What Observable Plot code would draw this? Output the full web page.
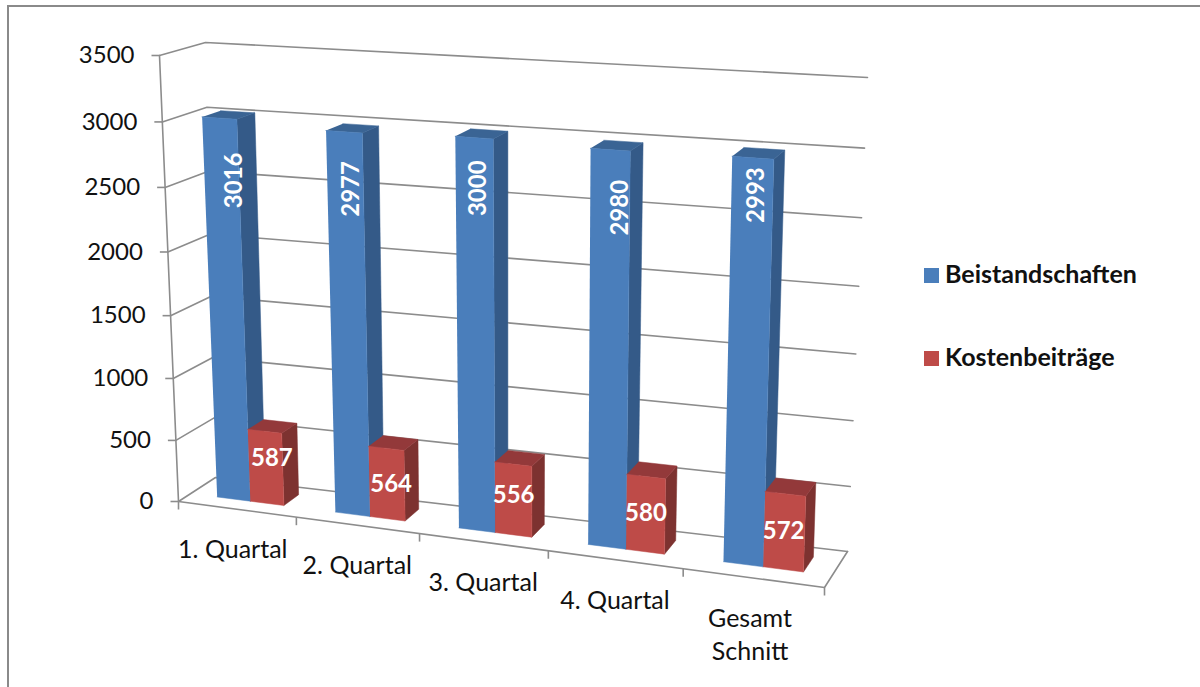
<!DOCTYPE html>
<html><head><meta charset="utf-8">
<script src="https://cdn.jsdelivr.net/npm/d3@7"></script>
<script src="https://cdn.jsdelivr.net/npm/@observablehq/plot@0.6"></script>
<style>
html,body{margin:0;padding:0;background:#fff;overflow:hidden}
#wrap{position:relative;width:1200px;height:687px;overflow:hidden;font-family:Lato,sans-serif}
#frame{position:absolute;left:7px;top:5px;width:1300px;height:800px;border-top:2px solid #8a8a8a;border-left:2px solid #8a8a8a;box-sizing:border-box}
.lg{position:absolute;left:924px;font-weight:700;font-size:25px;color:#111;line-height:30px;white-space:nowrap}
.lg i{display:inline-block;width:15px;height:15px;margin-right:6px;vertical-align:0px}
svg{position:absolute;left:0;top:0}
</style></head><body>
<div id="wrap"><div id="frame"></div><div id="chart"></div>
<div class="lg" id="l0" style="top:258px"></div><div class="lg" id="l1" style="top:341px"></div></div>
<script>
const categories = ["1. Quartal","2. Quartal","3. Quartal","4. Quartal","Gesamt\nSchnitt"];
const beistandschaften = [3016,2977,3000,2980,2993];
const kostenbeitraege = [587,564,556,580,572];
const seriesNames = ["Beistandschaften","Kostenbeiträge"];
const yTicks = [0,500,1000,1500,2000,2500,3000,3500];
const yMax = 3500;

// Perspective box: pixel corners of the chart's 3D box [u across, w depth, v height]
const C = {
  f0:[178,501], f1:[824,587], b0:[215,477], b1:[847,551],
  F0:[159,55],  F1:[843,97], B0:[205,42],  B1:[867,77]
};
const warpU = u => u/(1+0.12*(1-u));
const warpV = v => v/(1+0.05*(1-v));
const mix=(a,b,t)=>[a[0]+(b[0]-a[0])*t,a[1]+(b[1]-a[1])*t];
function P(u,w,value){
  const U=warpU(u),V=warpV(value/yMax);
  const low=mix(mix(C.f0,C.f1,U),mix(C.b0,C.b1,U),w);
  const high=mix(mix(C.F0,C.F1,U),mix(C.B0,C.B1,U),w);
  return mix(low,high,V);
}
const barLean=3; // bars lean slightly more than the walls, px at the axis top
const Pbar=(u,w,value)=>{const p=P(u,w,value);return [p[0]-barLean*value/yMax,p[1]];};
const px=d=>d.p[0], py=d=>d.p[1];
const n=categories.length;
const W0=0.33,W1=0.75, barW=0.057, inset=0.046;

// hand-placed label layout of the original chart: height on the bar, sideways nudge, in px
const blueLabelLevel=[2540,2548,2627,2560,2728], blueLabelDx=[10,4,2,8,2];
const redLabelLevel=[370,278,310,300,288], redLabelDx=[6,4,0,0,-1];
const catLabelDx=[-4,0,0,0,-3];

function faces(values,slot){
  const side=[],top=[],front=[];
  values.forEach((val,i)=>{
    const a=i/n+inset+slot*barW, b=a+barW;
    const add=(arr,pts)=>pts.forEach(p=>arr.push({id:i,p}));
    add(front,[Pbar(a,W0,0),Pbar(b,W0,0),Pbar(b,W0,val),Pbar(a,W0,val)]);
    add(side,[Pbar(b,W0,0),Pbar(b,W1,0),Pbar(b,W1,val),Pbar(b,W0,val)]);
    add(top,[Pbar(a,W0,val),Pbar(b,W0,val),Pbar(b,W1,val),Pbar(a,W1,val)]);
  });
  return {side,top,front};
}
const blue=faces(beistandschaften,0), red=faces(kostenbeitraege,1);
const poly=(data,fill)=>Plot.line(data,{x:px,y:py,z:"id",fill,stroke:fill,strokeWidth:0.5});

const grid=yTicks.flatMap(v=>[P(0,0,v),P(0,1,v),P(1,1,v)].map(p=>({id:v,p})));
const floor=[P(0,0,0),P(1,0,0),P(1,1,0)].map(p=>({id:"floor",p}));
const axisY=yTicks.map(v=>({id:"axis",p:P(0,0,v)}));
const ticksY=yTicks.map(v=>({v,p:P(0,0,v)}));
const ticksX=d3.range(n+1).map(i=>({p:P(i/n,0,0)}));
const catLabels=categories.map((c,i)=>({c,dx:catLabelDx[i],p:P((i+0.5)/n,0,0)}));
const labelAt=(level,slot,i)=>P(i/n+inset+(slot+0.5)*barW,W0,level);
const blueLabels=beistandschaften.map((v,i)=>({v,dx:blueLabelDx[i],p:labelAt(blueLabelLevel[i],0,i)}));
const redLabels=kostenbeitraege.map((v,i)=>({v,dx:redLabelDx[i],p:labelAt(redLabelLevel[i],1,i)}));
const gridStyle={stroke:"#8c8c8c",strokeWidth:1.6};

const chart=Plot.plot({
  width:1200,height:687,margin:0,
  x:{domain:[0,1200],range:[0,1200],axis:null},
  y:{domain:[0,687],range:[0,687],axis:null},
  style:{background:"transparent",fontFamily:"Lato,sans-serif"},
  marks:[
    Plot.line(grid,{x:px,y:py,z:"id",...gridStyle}),
    Plot.line(floor,{x:px,y:py,z:"id",...gridStyle}),
    Plot.line(axisY,{x:px,y:py,z:"id",...gridStyle}),
    Plot.link(ticksY,{x1:d=>d.p[0]-8,x2:px,y1:py,y2:py,...gridStyle}),
    Plot.link(ticksX,{x1:px,x2:px,y1:py,y2:d=>d.p[1]+8,...gridStyle}),
    poly(blue.side,"#345a88"),poly(blue.top,"#3a6494"),poly(blue.front,"#4a7ebb"),
    poly(red.side,"#7d3230"),poly(red.top,"#93393a"),poly(red.front,"#be4b48"),
    Plot.text(ticksY,{x:d=>d.p[0]-25,y:py,text:d=>String(d.v),textAnchor:"end",fontSize:24,fill:"#111"}),
    Plot.text(catLabels,{x:d=>d.p[0]+d.dx,y:py,text:"c",textAnchor:"middle",lineAnchor:"top",dy:26,fontSize:25,lineHeight:1.3,fill:"#111"}),
    Plot.text(blueLabels,{x:d=>d.p[0]+d.dx,y:py,text:d=>String(d.v),rotate:-90,fontSize:24,fontWeight:700,fill:"#fff"}),
    Plot.text(redLabels,{x:d=>d.p[0]+d.dx,y:py,text:d=>String(d.v),fontSize:24,fontWeight:700,fill:"#fff"})
  ]
});
document.getElementById("chart").append(chart);
const cols=["#4a7ebb","#be4b48"];
seriesNames.forEach((s,i)=>{const e=document.getElementById("l"+i);
  e.innerHTML=`<i style="background:${cols[i]}"></i>${s}`;});
</script></body></html>
